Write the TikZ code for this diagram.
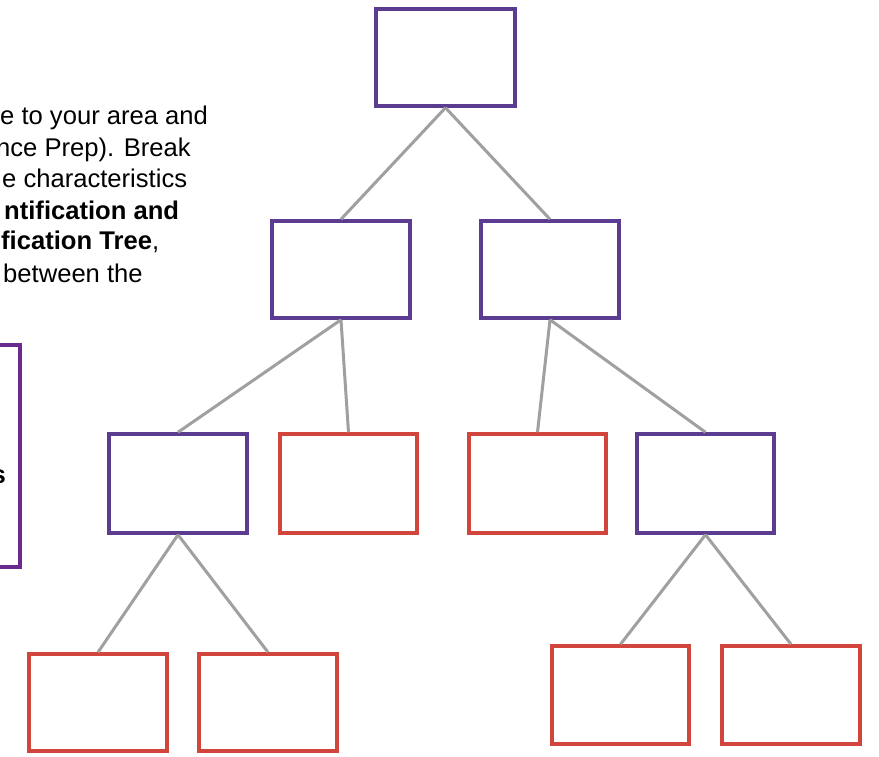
\documentclass[tikz,border=0pt]{standalone}
\usepackage{fontspec}
\setmainfont{Liberation Sans}
\definecolor{boxpurple}{HTML}{5B3C90}
\definecolor{boxred}{HTML}{D2453D}
\definecolor{linkgray}{HTML}{A0A0A0}
\definecolor{framepurple}{HTML}{6A2A8E}
\begin{document}
\begin{tikzpicture}[x=1pt,y=-1pt,
  basebox/.style={line width=3.5pt,fill=white,inner sep=0pt,minimum width=138pt,minimum height=98pt},
  purplebox/.style={basebox,draw=boxpurple},
  redbox/.style={basebox,draw=boxred},
  link/.style={draw=linkgray,line width=3pt},
  txt/.style={anchor=base west,inner sep=0pt,font=\fontsize{25.6}{31}\selectfont,text=black}]
\useasboundingbox (0,0) rectangle (879,757);

% left text (cut off at the page edge)
\node[txt] (t1) at (0,125) {e to your area and};
\node[txt] (t2) at (-4,157) {nce Prep). Break};
\node[txt] (t3) at (2,188) {e characteristics};
\node[txt] (t4) at (4,219) {\textbf{ntification and}};
\node[txt] (t5) at (1,250) {\textbf{fication Tree},};
\node[txt] (t6) at (3,282) {between the};

% partial frame on the left
\node[draw=framepurple,line width=4pt,inner sep=0pt,minimum width=40pt,minimum height=222pt] (frame) at (-0.5,456) {};
\node[anchor=base east,inner sep=0pt,font=\fontsize{25.6}{31}\selectfont\bfseries] (s) at (6,483) {s};

% tree boxes
\node[purplebox,minimum width=139pt,minimum height=97pt] (root) at (445.5,57.5) {};
\node[purplebox,minimum height=97pt] (l2a) at (341,269.5) {};
\node[purplebox,minimum height=97pt] (l2b) at (550,269.5) {};
\node[purplebox,minimum height=99pt] (l3a) at (178,483.5) {};
\node[redbox,minimum width=137pt,minimum height=99pt] (l3b) at (348.5,483.5) {};
\node[redbox,minimum width=137pt,minimum height=99pt] (l3c) at (537.5,483.5) {};
\node[purplebox,minimum width=137pt,minimum height=99pt] (l3d) at (705.5,483.5) {};
\node[redbox,minimum height=97pt] (l4a) at (98,702.5) {};
\node[redbox,minimum height=97pt] (l4b) at (268,702.5) {};
\node[redbox,minimum width=137pt,minimum height=98pt] (l4c) at (620.5,695) {};
\node[redbox,minimum height=98pt] (l4d) at (791,695) {};

% connectors
\draw[link] (root.south) -- (l2a.north);
\draw[link] (root.south) -- (l2b.north);
\draw[link] (l2a.south) -- (l3a.north);
\draw[link] (l2a.south) -- (l3b.north);
\draw[link] (l2b.south) -- (l3c.north);
\draw[link] (l2b.south) -- (l3d.north);
\draw[link] (l3a.south) -- (l4a.north);
\draw[link] (l3a.south) -- (l4b.north);
\draw[link] (l3d.south) -- (l4c.north);
\draw[link] (l3d.south) -- (l4d.north);
\end{tikzpicture}
\end{document}
